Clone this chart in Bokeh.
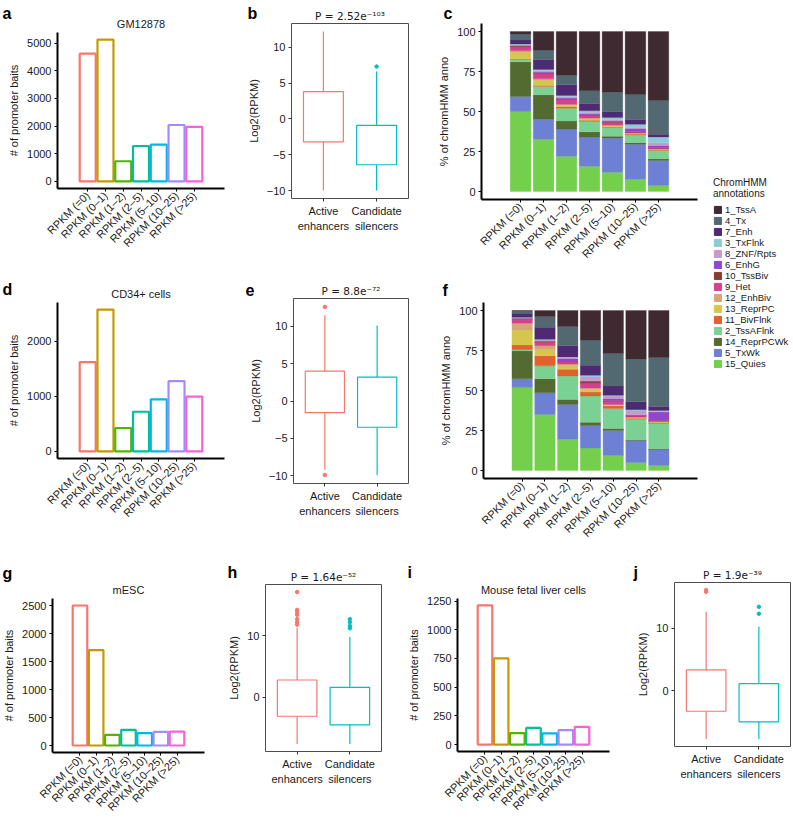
import math
from bokeh.plotting import figure
from bokeh.models import (FactorRange, Range1d, FixedTicker, Label, Legend, LegendItem,
                          ColumnDataSource, LinearAxis)
from bokeh.layouts import row, column
from bokeh.embed import file_html
from bokeh.resources import INLINE

# ------------------------------------------------------------------ data
rpkm_bins = ["RPKM (=0)", "RPKM (0–1)", "RPKM (1–2)", "RPKM (2–5)",
             "RPKM (5–10)", "RPKM (10–25)", "RPKM (>25)"]
bin_colors = ["#F8766D", "#C49A00", "#53B400", "#00C094", "#00B6EB", "#A58AFF", "#FB61D7"]

gm12878_baits = [4620, 5130, 730, 1280, 1330, 2040, 1970]
cd34_baits = [1620, 2575, 425, 720, 945, 1275, 995]
mesc_baits = [2505, 1705, 190, 280, 220, 245, 250]
fetal_liver_baits = [1212, 750, 100, 145, 97, 125, 154]

# ChromHMM states (legend order, top to bottom; stacked bottom-up in reverse)
states = ["1_TssA", "4_Tx", "7_Enh", "3_TxFlnk", "8_ZNF/Rpts", "6_EnhG", "10_TssBiv",
          "9_Het", "12_EnhBiv", "13_ReprPC", "11_BivFlnk", "2_TssAFlnk", "14_ReprPCWk",
          "5_TxWk", "15_Quies"]
state_colors = ["#3f2a31", "#536972", "#4e2a73", "#8ccbd5", "#c99ac7", "#9146d0", "#8b3b30",
                "#d6408e", "#d3a77a", "#d6c74c", "#e0602e", "#7bd193", "#536a30",
                "#6e80d4", "#74cf4c"]

# % of chromHMM annotation per state (rows follow `states`, columns follow `rpkm_bins`)
gm12878_state_pct = [
    [1.5, 11.6, 27.4, 37.0, 38.0, 39.4, 43.2],
    [3.8, 5.9, 5.9, 8.0, 12.0, 15.6, 21.0],
    [2.5, 6.3, 6.7, 4.5, 3.7, 3.0, 1.7],
    [0.4, 0.5, 0.7, 1.0, 1.5, 2.0, 3.6],
    [0.5, 1.0, 0.8, 0.7, 0.8, 0.6, 1.7],
    [0.3, 0.5, 0.5, 0.8, 0.5, 2.1, 1.5],
    [0.5, 0.5, 0.5, 0.5, 0.3, 0.3, 0.3],
    [2.5, 3.2, 3.0, 1.5, 1.7, 0.4, 0.5],
    [1.0, 1.0, 0.5, 0.7, 0.5, 0.3, 0.3],
    [4.0, 3.2, 1.0, 0.8, 0.5, 0.3, 0.2],
    [0.5, 0.6, 1.0, 0.7, 0.5, 0.6, 0.3],
    [1.5, 5.3, 8.0, 6.5, 5.5, 4.9, 5.3],
    [21.6, 15.1, 5.0, 3.3, 1.2, 1.0, 1.0],
    [9.4, 12.7, 17.0, 18.2, 21.3, 21.7, 15.6],
    [50.0, 32.6, 22.0, 15.8, 12.0, 7.8, 3.8],
]
cd34_state_pct = [
    [0.4, 3.8, 10.0, 18.4, 26.8, 30.4, 29.4],
    [1.3, 6.7, 12.0, 15.8, 20.4, 26.6, 30.6],
    [2.5, 7.5, 7.0, 6.3, 5.8, 5.0, 2.5],
    [0.3, 0.5, 0.5, 1.0, 0.5, 0.5, 0.5],
    [0.3, 0.5, 0.5, 2.5, 1.5, 2.7, 0.5],
    [0.2, 0.5, 1.5, 0.7, 1.2, 0.5, 5.2],
    [0.2, 0.5, 0.4, 1.0, 0.4, 0.3, 0.3],
    [2.8, 2.0, 1.6, 2.8, 2.1, 0.6, 0.4],
    [4.2, 2.1, 1.1, 0.8, 0.5, 0.4, 0.3],
    [9.4, 4.2, 2.1, 1.7, 0.5, 0.4, 0.3],
    [2.9, 6.3, 4.2, 2.5, 1.5, 0.6, 0.6],
    [0.7, 8.0, 14.7, 16.3, 12.6, 12.8, 16.0],
    [17.4, 8.8, 3.1, 2.1, 1.2, 0.5, 0.4],
    [5.6, 13.6, 21.6, 14.1, 15.6, 13.7, 9.9],
    [51.8, 35.0, 19.7, 14.0, 9.4, 5.0, 3.1],
]

box_groups = ["Active enhancers", "Candidate silencers"]
box_colors = ["#F8766D", "#00BFC4"]
ACT, CAN = box_groups

gm_lower = [-10.0, -10.0]
gm_q1 = [-3.2, -6.4]
gm_median = [1.1, -4.0]
gm_q3 = [3.8, -0.9]
gm_upper = [12.2, 6.6]
gm_out_group = [CAN]
gm_out_value = [7.3]
gm_p = "P = 2.52e⁻¹⁰³"

cd34_lower = [-9.2, -9.9]
cd34_q1 = [-1.55, -3.5]
cd34_median = [2.1, 0.35]
cd34_q3 = [4.0, 3.2]
cd34_upper = [11.5, 10.1]
cd34_out_group = [ACT, ACT]
cd34_out_value = [12.6, -9.9]
cd34_p = "P = 8.8e⁻⁷²"

mesc_lower = [-7.6, -7.6]
mesc_q1 = [-3.1, -4.5]
mesc_median = [-0.45, -1.9]
mesc_q3 = [2.8, 1.6]
mesc_upper = [11.3, 9.8]
mesc_out_group = [ACT] * 7 + [CAN] * 4
mesc_out_value = [17.1, 14.2, 13.8, 13.4, 12.7, 12.2, 11.8, 12.7, 12.2, 11.6, 11.2]
mesc_p = "P = 1.64e⁻⁵²"

liver_lower = [-7.75, -7.75]
liver_q1 = [-3.3, -5.0]
liver_median = [0.0, -2.6]
liver_q3 = [3.3, 1.1]
liver_upper = [12.6, 10.2]
liver_out_group = [ACT, ACT, CAN, CAN]
liver_out_value = [16.1, 15.8, 13.4, 12.3]
liver_p = "P = 1.9e⁻³⁹"

# ------------------------------------------------------------------ helpers
FONT = "Liberation Sans"
TXT = "#1a1a1a"


def base_fig(cell, frame, x_range, y_range):
    W, H = cell
    L, T, FW, FH = frame
    R = W - L - FW
    B = H - T - FH
    p = figure(width=W, height=H, x_range=x_range, y_range=y_range,
               min_border_left=L, min_border_right=R, min_border_top=T, min_border_bottom=B,
               frame_align=False, align="start",
               toolbar_location=None, output_backend="svg")
    p.grid.visible = False
    p.background_fill_color = "white"
    p.border_fill_color = "white"
    p.axis.major_label_text_font = FONT
    p.axis.major_label_text_color = TXT
    p.axis.major_label_text_font_size = "11px"
    p.axis.axis_label_text_font = FONT
    p.axis.axis_label_text_font_size = "11px"
    p.axis.axis_label_text_font_style = "normal"
    p.axis.axis_label_text_color = TXT
    p.axis.axis_label_standoff = 4
    p.axis.minor_tick_line_color = None
    p.axis.major_tick_in = 0
    p.axis.major_tick_out = 3
    p.axis.major_label_standoff = 3
    p.title.align = "center"
    p.title.text_font = FONT
    p.title.text_font_size = "11px"
    p.title.text_font_style = "normal"
    p.title.text_color = TXT
    return p


def add_letter(p, letter, lx, baseline, side):
    # placed in a side panel (not clipped to the frame), positioned in canvas pixels
    p.add_layout(Label(x=lx, y=baseline, x_units="canvas", y_units="canvas",
                       text=letter, text_font=FONT, text_font_size="16px", text_font_style="bold",
                       text_color="black", text_align="left", text_baseline="alphabetic"), side)


def classic_axes(p):
    p.outline_line_color = None
    p.axis.axis_line_color = "black"
    p.axis.axis_line_width = 2
    p.axis.major_tick_line_color = "black"
    p.axis.major_tick_line_width = 1
    p.xaxis.major_label_orientation = math.pi / 4
    p.xaxis.major_label_text_font_size = "11px"
    p.xaxis.major_label_standoff = 2


def bar_panel(cell, frame, values, ticks, title, letter, lpos):
    top = max(values)
    yr = Range1d(-0.05 * top, 1.05 * top)
    xr = FactorRange(factors=rpkm_bins, range_padding=1.2, range_padding_units="absolute")
    p = base_fig(cell, frame, xr, yr)
    p.title.text = title
    p.title.standoff = 5
    src = ColumnDataSource(dict(bin=rpkm_bins, n=values, col=bin_colors))
    p.vbar(x="bin", top="n", bottom=0, width=0.9, source=src,
           fill_color="white", line_color="col", line_width=2.2)
    classic_axes(p)
    p.yaxis.ticker = FixedTicker(ticks=ticks)
    p.yaxis.axis_label = "# of promoter baits"
    add_letter(p, letter, *lpos, "right")
    return p


def stack_panel(cell, frame, pct_rows, letter, lpos):
    xr = FactorRange(factors=rpkm_bins, range_padding=1.2, range_padding_units="absolute")
    p = base_fig(cell, frame, xr, Range1d(-5, 105))
    totals = [sum(c) for c in zip(*pct_rows)]
    data = {"bin": rpkm_bins}
    for s, vals in zip(states, pct_rows):
        data[s] = [100.0 * v / t for v, t in zip(vals, totals)]
    src = ColumnDataSource(data)
    p.vbar_stack(states[::-1], x="bin", width=0.9, color=state_colors[::-1], line_width=0.3, source=src)
    classic_axes(p)
    p.yaxis.ticker = FixedTicker(ticks=[0, 25, 50, 75, 100])
    p.yaxis.axis_label = "% of chromHMM anno"
    add_letter(p, letter, *lpos, "above")
    return p


def box_panel(cell, frame, lower, q1, med, q3, upper, out_group, out_value, ticks, ptext,
              letter, lpos, lside):
    lo = min(lower + out_value)
    hi = max(upper + out_value)
    span = hi - lo
    yr = Range1d(lo - 0.05 * span, hi + 0.05 * span)
    n = len(box_groups)
    xr = Range1d(0.4, n + 0.6)
    p = base_fig(cell, frame, xr, yr)
    p.title.text = ptext
    p.title.text_font = "DejaVu Sans"
    p.title.text_font_size = "10.5px"
    p.title.standoff = 3
    pos = list(range(1, n + 1))
    src = ColumnDataSource(dict(x=pos, lower=lower, q1=q1, med=med, q3=q3,
                                upper=upper, col=box_colors))
    p.segment(x0="x", y0="q3", x1="x", y1="upper", line_color="col", line_width=1.2, source=src)
    p.segment(x0="x", y0="lower", x1="x", y1="q1", line_color="col", line_width=1.2, source=src)
    p.vbar(x="x", bottom="q1", top="q3", width=0.75, fill_color="white",
           line_color="col", line_width=1.2, source=src)
    p.rect(x="x", y="med", width=0.75, height=0, fill_alpha=0, line_color="col",
           line_width=2.6, source=src)
    oidx = [box_groups.index(g) for g in out_group]
    osrc = ColumnDataSource(dict(x=[pos[i] for i in oidx], v=out_value,
                                 col=[box_colors[i] for i in oidx]))
    p.scatter(x="x", y="v", size=3.5, color="col", source=osrc)
    p.outline_line_color = "#4d4d4d"
    p.outline_line_width = 1
    p.axis.axis_line_color = None
    p.axis.major_tick_line_color = "#333333"
    p.yaxis.ticker = FixedTicker(ticks=ticks)
    p.yaxis.major_label_overrides = {t: str(t).replace("-", "−") for t in ticks}
    p.yaxis.axis_label = "Log2(RPKM)"
    # two-line group labels: first word on the main axis, second word on an extra axis
    p.xaxis.ticker = FixedTicker(ticks=pos)
    p.xaxis.major_label_overrides = {x: g.split(" ")[0] for x, g in zip(pos, box_groups)}
    ax2 = LinearAxis(ticker=FixedTicker(ticks=pos),
                     major_label_overrides={x: g.split(" ")[1] for x, g in zip(pos, box_groups)},
                     axis_line_color=None, major_tick_line_color=None, minor_tick_line_color=None,
                     major_tick_out=0, major_tick_in=0,
                     major_label_standoff=0, major_label_text_font=FONT,
                     major_label_text_font_size="11px", major_label_text_color=TXT)
    p.add_layout(ax2, "below")
    add_letter(p, letter, *lpos, lside)
    return p


# ------------------------------------------------------------------ panels
# cell = (width, height); frame = (left, top, width, height) inside the cell
fa = bar_panel((240, 270), (57, 32, 167, 156), gm12878_baits, [0, 1000, 2000, 3000, 4000, 5000],
               "GM12878", "a", (2, 13))
fb = box_panel((190, 270), (51, 23, 117, 175), gm_lower, gm_q1, gm_median, gm_q3, gm_upper,
               gm_out_group, gm_out_value, [-10, -5, 0, 5, 10], gm_p, "b", (7, 13), "right")
fc = stack_panel((270, 270), (51, 23, 216, 176), gm12878_state_pct, "c", (13, 13))

fd = bar_panel((240, 285), (57, 32, 167, 156), cd34_baits, [0, 1000, 2000],
               "CD34+ cells", "d", (2, 19))
fe = box_panel((190, 285), (53, 28, 115, 185), cd34_lower, cd34_q1, cd34_median, cd34_q3, cd34_upper,
               cd34_out_group, cd34_out_value, [-10, -5, 0, 5, 10], cd34_p, "e", (5, 19), "right")
ff = stack_panel((270, 285), (53, 32, 214, 176), cd34_state_pct, "f", (12, 20))

fg = bar_panel((225, 272), (52, 43, 152, 154), mesc_baits, [0, 500, 1000, 1500, 2000, 2500],
               "mESC", "g", (2, 18))
fh = box_panel((175, 272), (38, 29, 118, 167), mesc_lower, mesc_q1, mesc_median, mesc_q3, mesc_upper,
               mesc_out_group, mesc_out_value, [0, 10], mesc_p, "h", (2, 17), "right")
fi = bar_panel((230, 272), (57, 43, 152, 153), fetal_liver_baits, [0, 250, 500, 750, 1000, 1250],
               "Mouse fetal liver cells", "i", (7, 17))
fj = box_panel((163, 272), (43, 27, 117, 164), liver_lower, liver_q1, liver_median, liver_q3, liver_upper,
               liver_out_group, liver_out_value, [0, 10], liver_p, "j", (3, 17), "left")

# ------------------------------------------------------------------ legend
# legend figure: the GM12878 stack is drawn again but kept out of view (y range above 100 %),
# so that the legend entries have real glyph renderers
leg = figure(width=93, height=270 + 285, toolbar_location=None, output_backend="svg",
             x_range=FactorRange(factors=rpkm_bins), y_range=Range1d(200, 300),
             x_axis_type=None, y_axis_type=None, min_border=0, frame_align=False, align="start")
leg.outline_line_color = None
leg.grid.visible = False
leg_src = ColumnDataSource({"bin": rpkm_bins, **{s: v for s, v in zip(states, gm12878_state_pct)}})
leg_rs = leg.vbar_stack(states[::-1], x="bin", width=0.9, color=state_colors[::-1], source=leg_src)
rmap = dict(zip(states[::-1], leg_rs))
items = [LegendItem(label=s, renderers=[rmap[s]]) for s in states]
legend = Legend(items=items, location=(13, 555 - 369), title="ChromHMM\nannotations",
                border_line_color=None, background_fill_alpha=0, padding=0, margin=0,
                spacing=0, glyph_width=9, glyph_height=9, label_height=9, label_standoff=3,
                label_text_font=FONT, label_text_font_size="9.5px", label_text_color=TXT,
                title_text_font=FONT, title_text_font_size="10px", title_text_font_style="normal",
                title_text_color=TXT, title_standoff=5)
leg.add_layout(legend)

top_left = column(row(fa, fb, fc), row(fd, fe, ff))
top = row(top_left, leg)
bottom = row(fg, fh, fi, fj)
page = column(top, bottom)

open("out.html", "w").write(file_html(page, INLINE))
